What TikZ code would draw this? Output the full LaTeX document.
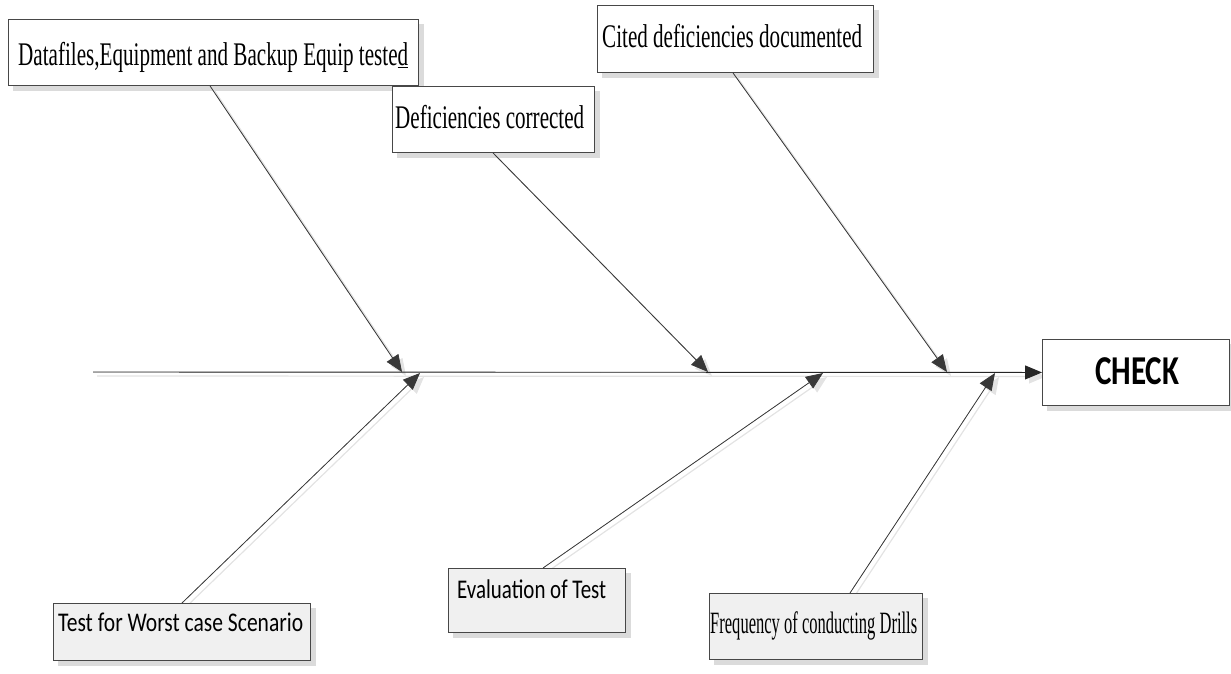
\documentclass[tikz,border=0pt]{standalone}
\usepackage{fontspec}
\usepackage{graphicx}
\setmainfont{Liberation Serif}
\newfontfamily\tmsfont{Liberation Serif}
\newfontfamily\calfont{Carlito}
\usetikzlibrary{arrows.meta,calc}

% label squeezed horizontally to a given width, height unchanged
\newsavebox{\fitbox}
\newcommand{\fitw}[2]{%
  \sbox{\fitbox}{#2}%
  \pgfmathsetmacro{\fitratio}{#1/\wd\fitbox}%
  \scalebox{\fitratio}[1]{\usebox{\fitbox}}}

\pgfdeclarelayer{shade}
\pgfsetlayers{shade,main}

\tikzset{
  x=1pt, y=-1pt,
  causebox/.style={draw=black!72, line width=0.9pt, fill=white, inner sep=0pt,
    anchor=north west},
  greybox/.style={causebox, fill=black!6},
  boxshade/.style={fill=black!14},
  serifText/.style={inner sep=0pt, anchor=base west, font=\tmsfont\fontsize{33}{38}\selectfont},
  sansText/.style={inner sep=0pt, anchor=base west, font=\calfont\fontsize{27}{32}\selectfont},
  bone/.style={draw=black!78, line width=0.8pt,
    -{Triangle[length=17pt,width=14pt]}, fill=black!78},
  boneshadow/.style={draw=black!11, line width=1.2pt,
    -{Triangle[length=17pt,width=14pt]}, fill=black!11},
  spine/.style={draw=black!85, line width=0.9pt,
    -{Triangle[length=17pt,width=14pt]}, fill=black!78},
}

\begin{document}
\begin{tikzpicture}
\useasboundingbox (0,0) rectangle (1231,673);

% cause boxes
\node[causebox, minimum width=410pt, minimum height=66pt] (d1) at (8,19) {};
\node[causebox, minimum width=202pt, minimum height=66pt] (d2) at (392,86) {};
\node[causebox, minimum width=276pt, minimum height=67pt] (d3) at (597,5) {};
\node[greybox, minimum width=257pt, minimum height=57pt] (b1) at (53,603) {};
\node[greybox, minimum width=177pt, minimum height=64pt] (b2) at (448,568) {};
\node[greybox, minimum width=213pt, minimum height=66pt] (b3) at (709,593) {};
\node[causebox, minimum width=187pt, minimum height=66pt] (chk) at (1042,339) {};

% box shadows
\begin{pgfonlayer}{shade}
  \foreach \b in {d1,d2,d3,b1,b2,b3,chk}
    \fill[boxshade] ([shift={(5,5)}]\b.north west) rectangle ([shift={(5,5)}]\b.south east);
\end{pgfonlayer}

% box labels
\node[serifText] (d1t) at (18,65) {\fitw{390pt}{Datafiles,Equipment and Backup Equip teste\underline{d}}};
\node[serifText] (d2t) at (395,128) {\fitw{189pt}{Deficiencies corrected}};
\node[serifText] (d3t) at (602,47) {\fitw{260pt}{Cited deficiencies documented}};
\node[sansText] (b1t) at (58,631) {\fitw{245pt}{Test for Worst case Scenario}};
\node[sansText] (b2t) at (457,598) {\fitw{149pt}{Evaluation of Test}};
\node[serifText, font=\tmsfont\fontsize{31}{36}\selectfont] (b3t) at (710,633) {\fitw{207pt}{Frequency of conducting Drills}};
\node[inner sep=0pt, anchor=base west, font=\calfont\bfseries\fontsize{41}{46}\selectfont] (chkt) at (1095,384) {\fitw{84pt}{CHECK}};

% spine and tip points
\coordinate (tail) at (93,372);
\coordinate (t1) at (402,372);
\coordinate (t2) at (708,372);
\coordinate (t3) at (947,372);
\coordinate (u1) at (420,373);
\coordinate (u2) at (823,373);
\coordinate (u3) at (995,373);

% shadows of the bones
\begin{pgfonlayer}{shade}
\begin{scope}[transform canvas={shift={(4pt,-4pt)}}]
  \draw[boneshadow] (tail) -- (chk.west);
  \draw[boneshadow] ([xshift=202pt]d1.south west) -- (t1);
  \draw[boneshadow] ([xshift=101pt]d2.south west) -- (t2);
  \draw[boneshadow] ([xshift=136pt]d3.south west) -- (t3);
  \draw[boneshadow] ([xshift=129pt]b1.north west) -- (u1);
  \draw[boneshadow] ([xshift=95pt]b2.north west) -- (u2);
  \draw[boneshadow] ([xshift=141pt]b3.north west) -- (u3);
\end{scope}
\end{pgfonlayer}

% bones
\draw[spine] (tail) -- (chk.west);
\draw[bone] ([xshift=202pt]d1.south west) -- (t1);
\draw[bone] ([xshift=101pt]d2.south west) -- (t2);
\draw[bone] ([xshift=136pt]d3.south west) -- (t3);
\draw[bone] ([xshift=129pt]b1.north west) -- (u1);
\draw[bone] ([xshift=95pt]b2.north west) -- (u2);
\draw[bone] ([xshift=141pt]b3.north west) -- (u3);
\end{tikzpicture}
\end{document}
